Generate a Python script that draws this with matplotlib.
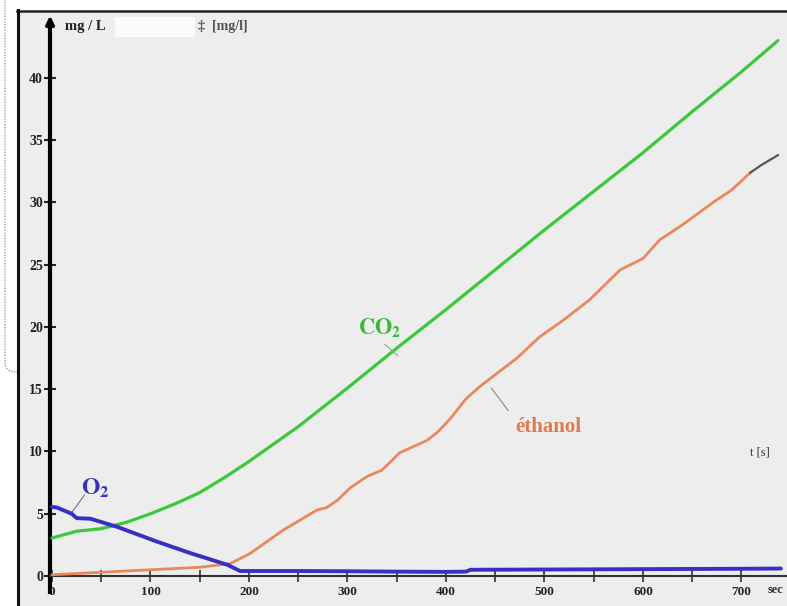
import matplotlib
matplotlib.use("Agg")
import matplotlib.pyplot as plt
from matplotlib.lines import Line2D
from matplotlib.patches import FancyBboxPatch, Rectangle

plt.rcParams['mathtext.fontset'] = 'stix'
SERIF = ['Liberation Serif', 'DejaVu Serif']

# ---------------- data ----------------
co2_t = [0, 25, 50, 75, 100, 125, 150, 175, 200, 250, 300, 350, 400, 450, 500, 550, 600, 650, 700, 737]
co2_v = [3.05, 3.6, 3.8, 4.3, 5.0, 5.8, 6.7, 7.9, 9.2, 12.0, 15.1, 18.3, 21.4, 24.6, 27.8, 30.9, 34.0, 37.3, 40.5, 43.0]

eth_t = [0, 50, 100, 150, 181, 201, 235, 269, 279, 290, 303, 320, 335, 353, 381, 392, 404, 420, 434, 472, 495, 520, 546, 577, 600, 617, 640, 671, 690, 709]
eth_v = [0.1, 0.3, 0.5, 0.7, 1.0, 1.8, 3.7, 5.3, 5.5, 6.1, 7.1, 8.0, 8.5, 9.9, 10.9, 11.6, 12.6, 14.2, 15.2, 17.5, 19.2, 20.6, 22.2, 24.6, 25.5, 27.0, 28.2, 30.0, 31.0, 32.4]
eth_tip_t = [709, 720, 737]
eth_tip_v = [32.4, 33.0, 33.8]

o2_t = [0, 5, 20, 25, 39, 66, 107, 140, 178, 191, 250, 300, 350, 400, 420, 425, 500, 600, 700, 740]
o2_v = [5.55, 5.5, 5.0, 4.65, 4.6, 3.95, 2.75, 1.85, 0.9, 0.4, 0.4, 0.38, 0.35, 0.33, 0.35, 0.5, 0.52, 0.55, 0.58, 0.6]

x_ticks = [0, 100, 200, 300, 400, 500, 600, 700]
y_ticks = [0, 5, 10, 15, 20, 25, 30, 35, 40]

# ---------------- figure ----------------
W, H = 787, 606
fig = plt.figure(figsize=(W / 100, H / 100), dpi=100)
fig.patch.set_facecolor('white')

def fx(px):
    return px / W

def fy(py):
    return 1 - py / H

# dotted rounded box edge at the left (mostly hidden behind the plot)
box = FancyBboxPatch((fx(5), fy(372)), fx(2000), fy(-60) - fy(372),
                     boxstyle="round,pad=0,rounding_size=0.015",
                     transform=fig.transFigure, fill=False,
                     edgecolor='#8fa3bb', linewidth=1.0, linestyle=(0, (1, 1)),
                     zorder=-5)
fig.patches.append(box)

ax = fig.add_axes([fx(19), 0, fx(787) - fx(19), fy(12)])
ax.set_facecolor('#ededed')
ax.set_xlim(-33.5, 746.2)
ax.set_ylim(-2.41, 45.3)

for s in ['top', 'right']:
    ax.spines[s].set_visible(False)
ax.spines['left'].set_position(('data', -2))
ax.spines['left'].set_bounds(-1.3, 44.6)
ax.spines['left'].set_linewidth(3)
ax.spines['left'].set_color('black')
ax.spines['bottom'].set_position(('data', 0))
ax.spines['bottom'].set_bounds(-2, 746)
ax.spines['bottom'].set_linewidth(1.5)
ax.spines['bottom'].set_color('#333333')

# y axis arrow head
ax.annotate('', xy=(-2, 45.0), xytext=(-2, 43.5),
            arrowprops=dict(arrowstyle='-|>', color='black', lw=2.5,
                            mutation_scale=12, shrinkA=0, shrinkB=0))

ax.set_yticks(y_ticks)
ax.set_yticklabels([str(v) for v in y_ticks])
ax.set_xticks(x_ticks)
ax.set_xticklabels([str(v) for v in x_ticks])
ax.set_xticks([50, 150, 250, 350, 450, 550, 650], minor=True)
ax.tick_params(axis='y', direction='inout', length=8, width=1.5, pad=1,
               colors='#222222', labelsize=10)
ax.tick_params(axis='x', which='both', direction='inout', length=8, width=1.2,
               pad=3, colors='#333333', labelsize=9.5)
for lab in ax.get_xticklabels() + ax.get_yticklabels():
    lab.set_family(SERIF)
    lab.set_fontweight('bold')
    lab.set_color('#222222')

# ---------------- curves ----------------
ax.plot(co2_t, co2_v, color='#3cc83c', lw=2.3, solid_capstyle='round', zorder=3)
ax.plot(eth_t, eth_v, color='#e8895c', lw=2.0, solid_capstyle='round', zorder=3)
ax.plot(eth_tip_t, eth_tip_v, color='#555555', lw=1.6, zorder=3)
ax.plot(o2_t, o2_v, color='#3a2fc4', lw=2.8, solid_capstyle='round', zorder=4)

# ---------------- labels ----------------
ax.text(43.7, 7.1, r'$\mathbf{O_2}$', color='#3a30c0', fontsize=17,
        ha='center', va='center')
ax.plot([33, 20], [6.5, 5.1], color='#6a6aa8', lw=0.8)

ax.text(333, 19.9, r'$\mathbf{CO_2}$', color='#33bb33', fontsize=16,
        ha='center', va='center')
ax.plot([338, 351], [18.6, 17.7], color='#8aa88a', lw=0.8)

ax.text(503.5, 12.0, 'éthanol', color='#e07a50', fontsize=15, fontweight='bold',
        family=SERIF, ha='center', va='center')
ax.plot([446, 463], [15.1, 13.3], color='#a08070', lw=0.8)

ax.text(13, 44.1, 'mg / L', color='#222222', fontsize=10.5, fontweight='bold',
        family=SERIF, ha='left', va='center')
ax.text(148, 44.1, '‡  [mg/l]', color='#555555', fontsize=10, fontweight='bold',
        family=SERIF, ha='left', va='center')
ax.text(718.8, 9.9, 't [s]', color='#333333', fontsize=9, family=SERIF,
        ha='center', va='center')
ax.text(727, -1.1, 'sec', color='#333333', fontsize=9, fontweight='bold',
        family=SERIF, ha='left', va='center', clip_on=False)

# erased patch between the two unit labels
ax.add_patch(Rectangle((64, 43.3), 81, 1.6, facecolor='white', edgecolor='none',
                       alpha=0.8, zorder=2))

# outer frame (top and left)
fig.add_artist(Line2D([fx(17), fx(787)], [fy(11), fy(11)], color='#222222',
                      lw=1.8, transform=fig.transFigure))
fig.add_artist(Line2D([fx(18), fx(18)], [fy(10), 0], color='#111111',
                      lw=2.2, transform=fig.transFigure))

fig.savefig('out.png', dpi=100, facecolor='white')
